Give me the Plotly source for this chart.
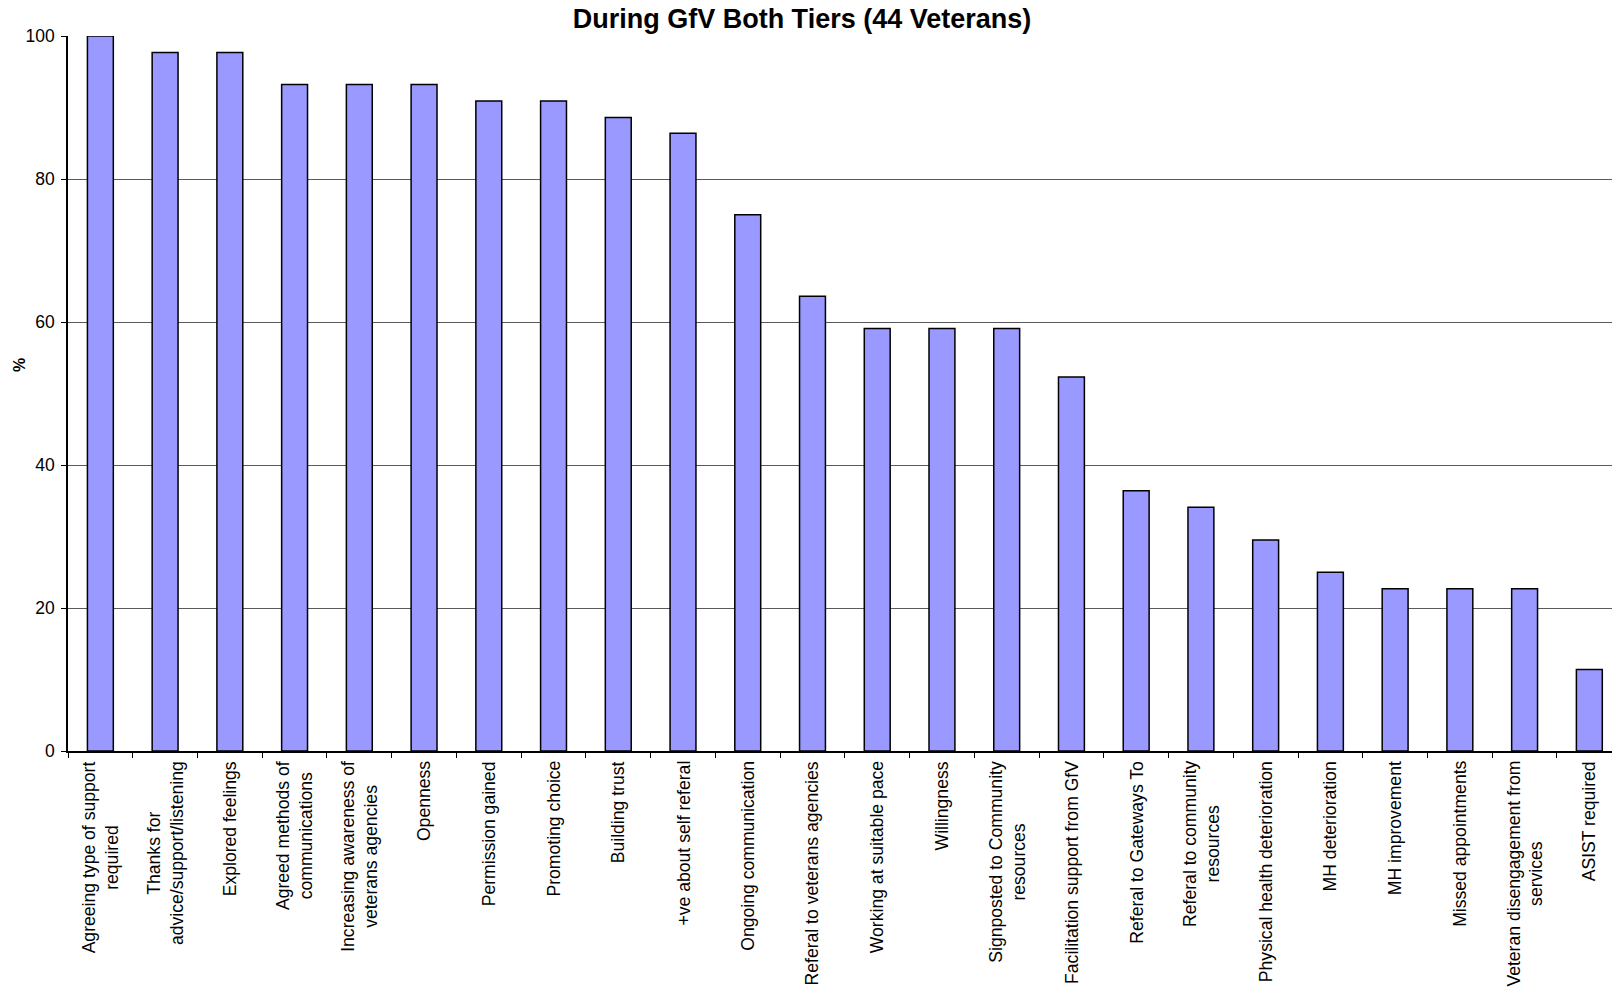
import plotly.graph_objects as go

# Share of the 44 veterans (%) for each item recorded during GfV, both tiers
categories = [
    "Agreeing type of support<br>required",
    "Thanks for<br>advice/support/listening",
    "Explored feelings",
    "Agreed methods of<br>communications",
    "Increasing awareness of<br>veterans agencies",
    "Openness",
    "Permission gained",
    "Promoting choice",
    "Building trust",
    "+ve about self referal",
    "Ongoing communication",
    "Referal to veterans agencies",
    "Working at suitable pace",
    "Willingness",
    "Signposted to Community<br>resources",
    "Facilitation support from GfV",
    "Referal to Gateways To",
    "Referal to community<br>resources",
    "Physical health deterioration",
    "MH deterioration",
    "MH improvement",
    "Missed appointments",
    "Veteran disengagement from<br>services",
    "ASIST required",
]
percent = [
    100.0, 97.7, 97.7, 93.2, 93.2, 93.2, 90.9, 90.9, 88.6, 86.4, 75.0, 63.6,
    59.1, 59.1, 59.1, 52.3, 36.4, 34.1, 29.5, 25.0, 22.7, 22.7, 22.7, 11.4,
]
y_ticks = [0, 20, 40, 60, 80, 100]

FONT = "Liberation Sans, Arial, sans-serif"

fig = go.Figure(
    go.Bar(
        x=categories,
        y=percent,
        width=0.4,
        marker=dict(color="#9999FF", line=dict(color="#000000", width=1.5)),
    )
)

# Category labels written vertically below the axis, lines centred on each other
for cat in categories:
    fig.add_annotation(
        x=cat, xref="x", y=0, yref="paper",
        yanchor="top", xanchor="center", yshift=-8,
        text=cat, textangle=-90, align="center", showarrow=False,
        font=dict(family=FONT, size=17.6, color="#000000"),
    )

# Y-axis caption
fig.add_annotation(
    x=-0.031, xref="paper", y=0.54, yref="paper",
    text="<b>%</b>", textangle=-90, showarrow=False,
    xanchor="center", yanchor="middle",
    font=dict(family=FONT, size=16, color="#000000"),
)

fig.update_layout(
    width=1612, height=992,
    margin=dict(l=68, r=0, t=36, b=241),
    paper_bgcolor="#FFFFFF", plot_bgcolor="#FFFFFF",
    showlegend=False,
    title=dict(
        text="<b>During GfV Both Tiers (44 Veterans)</b>",
        x=0.4975, xref="container", xanchor="center",
        y=0.981, yref="container", yanchor="middle",
        font=dict(family=FONT, size=27, color="#000000"),
    ),
    font=dict(family=FONT, color="#000000"),
)
fig.update_xaxes(
    type="category",
    range=[-0.5, 23.35],
    showticklabels=False,
    tickson="boundaries",
    ticks="outside", ticklen=5, tickcolor="#000000", tickwidth=1,
    showline=True, linecolor="#000000", linewidth=1.5,
    showgrid=False, zeroline=False,
)
fig.update_yaxes(
    range=[0, 100],
    tickvals=y_ticks,
    ticks="outside", ticklen=5, tickcolor="#000000", tickwidth=1,
    ticklabelstandoff=3,
    tickfont=dict(family=FONT, size=17.5, color="#000000"),
    showline=True, linecolor="#000000", linewidth=1.5,
    showgrid=True, gridcolor="#5a5a5a", gridwidth=1,
    zeroline=False,
)

fig.write_html("out.html")
